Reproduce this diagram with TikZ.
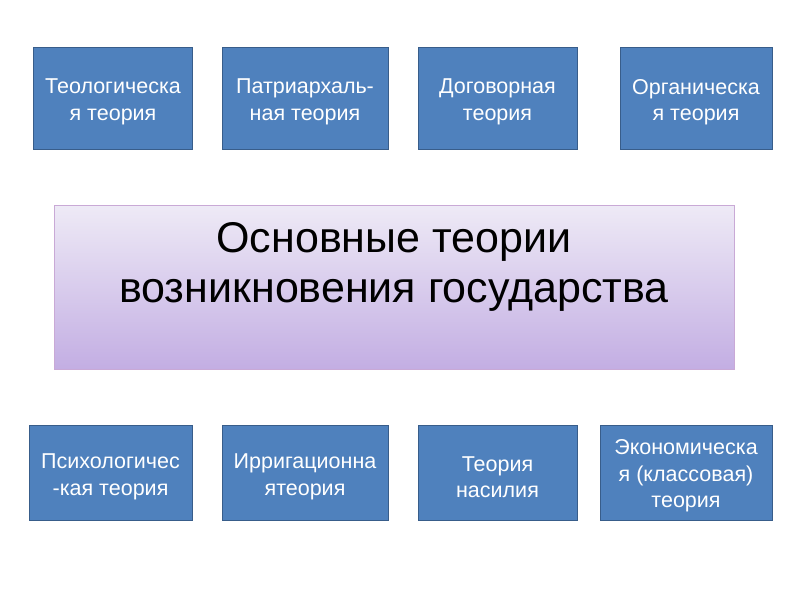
\documentclass[tikz,border=0pt]{standalone}
\usepackage{fontspec}
\setmainfont{Liberation Sans}
\begin{document}
\begin{tikzpicture}[x=1pt,y=-1pt,
  tbox/.style={draw=boxedge,fill=boxfill,line width=1pt,inner sep=0pt},
  ttext/.style={text=white,align=center,font=\fontsize{21.5}{26.5}\selectfont,inner sep=0pt},
  cbox/.style={draw=cedge,line width=1pt,top color=ctop,bottom color=cbot,inner sep=0pt},
  ctext/.style={align=center,font=\fontsize{43}{50}\selectfont,inner sep=0pt}]
\definecolor{boxfill}{HTML}{4F81BD}
\definecolor{boxedge}{HTML}{385D8A}
\definecolor{ctop}{HTML}{EEEAF6}
\definecolor{cbot}{HTML}{C3AEE3}
\definecolor{cedge}{HTML}{C9A9D6}
\useasboundingbox[fill=white] (0,0) rectangle (800,600);
\node[tbox,minimum width=159,minimum height=102] (t1) at (113,98) {};
\node[ttext] (t1t) at (113,102) {Теологическа\\я теория};
\node[tbox,minimum width=166,minimum height=102] (t2) at (305,98) {};
\node[ttext] (t2t) at (305,102) {Патриархаль-\\ная теория};
\node[tbox,minimum width=159,minimum height=102] (t3) at (497.5,98) {};
\node[ttext] (t3t) at (497.5,102) {Договорная\\теория};
\node[tbox,minimum width=152,minimum height=102] (t4) at (696,98) {};
\node[ttext] (t4t) at (696,102) {Органическа\\я теория};
\node[cbox,minimum width=680,minimum height=164] (c) at (394,287) {};
\node[ctext] (ct) at (394,267) {Основные теории\\возникновения государства};
\node[tbox,minimum width=163,minimum height=95] (b1) at (110.5,473) {};
\node[ttext] (b1t) at (110.5,477) {Психологичес\\-кая теория};
\node[tbox,minimum width=166,minimum height=95] (b2) at (305,473) {};
\node[ttext] (b2t) at (305,477) {Ирригационна\\ятеория};
\node[tbox,minimum width=159,minimum height=95] (b3) at (497.5,473) {};
\node[ttext] (b3t) at (497.5,477) {Теория\\насилия};
\node[tbox,minimum width=172,minimum height=95] (b4) at (686,473) {};
\node[ttext] (b4t) at (686,476) {Экономическа\\я (классовая)\\теория};
\end{tikzpicture}
\end{document}
